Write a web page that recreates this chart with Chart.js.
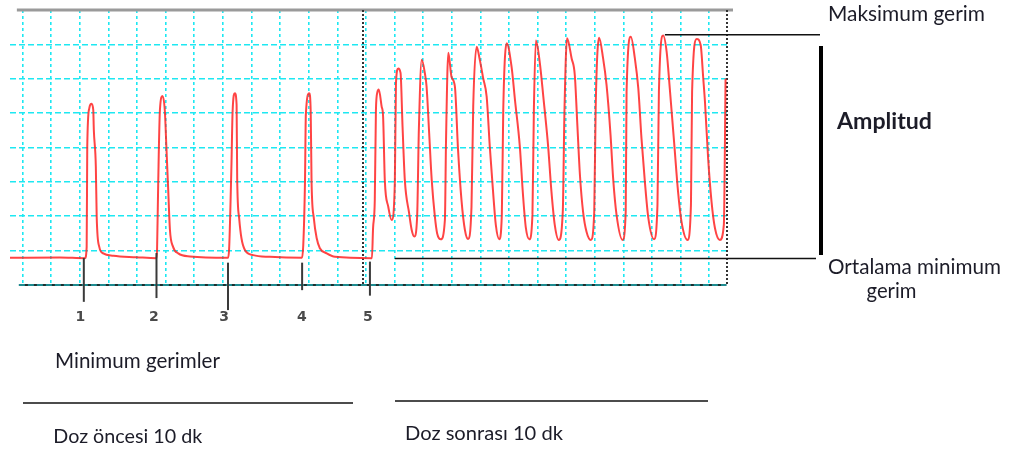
<!DOCTYPE html>
<html><head><meta charset="utf-8">
<script src="https://cdn.jsdelivr.net/npm/chart.js@4.4.1/dist/chart.umd.min.js"></script>
<style>html,body{margin:0;padding:0;background:#fff;}#wrap{width:1017px;height:450px;position:relative;}</style>
</head><body><div id="wrap"><canvas id="c"></canvas></div>
<script>
// ---- data (time in grid units, tension in grid units) ----
const preDoseX = [-0.44,1.30,2.18,2.24,2.26,2.33,2.41,2.47,2.49,2.56,2.59,2.68,2.82,3.17,3.98,4.68,
  4.70,4.74,4.80,4.89,4.97,5.03,5.09,5.15,5.26,5.44,5.85,7.18,
  7.22,7.30,7.34,7.42,7.48,7.50,7.57,7.65,7.77,8.06,8.64,9.76,
  9.81,9.87,9.90,10.02,10.07,10.10,10.18,10.28,10.39,10.63,10.92,12.21];
const preDoseY = [0.79,0.80,0.78,1.11,4.02,5.14,5.27,5.09,4.51,3.44,1.99,1.11,0.92,0.85,0.81,0.78,
  1.02,2.96,5.09,5.50,5.09,3.93,2.76,1.60,1.11,0.92,0.83,0.79,
  1.07,3.49,5.04,5.58,5.24,3.11,1.94,1.36,1.02,0.87,0.82,0.79,
  1.16,3.00,4.95,5.58,5.04,3.00,1.94,1.36,1.07,0.92,0.82,0.78];
const postDoseX = [12.25,12.31,12.35,12.40,12.45,12.55,12.60,12.66,12.78,12.90,
  13.01,13.05,13.13,13.21,13.28,13.36,13.51,13.60,13.69,
  13.79,13.85,13.95,14.06,14.12,14.21,14.30,14.41,14.49,14.62,
  14.76,14.80,14.88,14.99,15.11,15.22,15.34,15.46,15.57,
  15.69,15.75,15.87,15.98,16.10,16.22,16.33,16.44,16.54,16.66,
  16.75,16.80,16.92,17.09,17.21,17.38,17.49,17.59,17.71,
  17.82,17.87,17.94,18.08,18.20,18.37,18.48,18.60,18.74,
  18.88,18.94,19.03,19.19,19.30,19.39,19.48,19.59,19.71,19.86,
  19.98,20.03,20.15,20.29,20.41,20.55,20.64,20.76,20.97,
  21.08,21.11,21.26,21.40,21.52,21.63,21.75,21.87,22.07,
  22.19,22.24,22.39,22.51,22.62,22.77,22.91,23.03,23.24,
  23.36,23.40,23.56,23.70,23.79,23.85,23.96,24.08,24.20,24.37,
  24.51,24.57];
const postDoseY = [1.66,2.47,5.09,5.61,5.69,5.19,4.90,3.05,2.28,1.89,
  2.96,5.88,6.30,6.17,4.61,3.05,2.09,1.60,1.41,
  1.99,4.51,6.55,6.16,5.77,4.42,3.05,1.99,1.50,1.33,
  1.89,4.22,6.76,6.06,5.77,3.93,2.47,1.60,1.34,
  2.28,5.19,6.93,6.55,6.01,5.48,4.02,2.76,1.75,1.33,
  2.04,5.09,7.03,6.35,5.38,4.02,2.62,1.66,1.33,
  2.04,5.09,7.11,6.45,5.48,4.02,2.76,1.75,1.31,
  2.12,5.09,7.18,6.59,6.11,4.65,3.20,2.13,1.55,1.31,
  2.13,5.15,7.19,6.59,5.82,4.36,3.11,2.04,1.31,
  2.13,5.62,7.22,6.59,5.72,4.28,3.00,1.95,1.33,
  2.33,5.62,7.26,6.79,5.72,4.17,2.71,1.84,1.31,
  2.33,5.62,7.16,6.98,6.01,5.33,3.69,2.42,1.65,1.31,
  1.75,6.01];
const xGridTicks = [0,1,2,3,4,5,6,7,8,9,10,11,12,13,14,15,16,17,18,19,20,21,22,23,24];
const yGridTicks = [1,2,3,4,5,6,7];
const doseMarkersX = [11.9, 24.62];
const minMarkX = [2.14, 4.68, 7.18, 9.77, 12.14];
const minMarkTop = [0.79, 0.93, 0.65, 0.65, 0.68];
const minMarkBottom = [-0.49, -0.38, -0.73, -0.15, -0.31];
const minMarkLabels = ['1','2','3','4','5'];
const minLabelX = [2.02, 4.59, 7.04, 9.76, 12.07];
const maxLevel = 7.28, maxLineStart = 22.45;
const avgMinLevel = 0.77, avgMinLineStart = 13.01;

const CYAN = 'rgb(30,232,242)';
const trace = preDoseX.map((x,i)=>({x, y:preDoseY[i]}))
  .concat(postDoseX.map((x,i)=>({x, y:postDoseY[i]})));

function fitText(ctx, text, x, baseline, width, weight, family){
  ctx.font = weight + ' 20px ' + family;
  const w = ctx.measureText(text).width;
  const size = 20 * width / w;
  ctx.font = weight + ' ' + size.toFixed(2) + 'px ' + family;
  ctx.fillText(text, x, baseline);
}

const annot = {
  id: 'annot',
  beforeDatasetsDraw(chart){
    const ctx = chart.ctx, xs = chart.scales.x, ys = chart.scales.y;
    ctx.save();
    // top gray line
    ctx.strokeStyle = '#9a9a9a'; ctx.lineWidth = 3;
    ctx.beginPath(); ctx.moveTo(xs.getPixelForValue(-0.2), ys.getPixelForValue(8));
    ctx.lineTo(xs.getPixelForValue(24.83), ys.getPixelForValue(8)); ctx.stroke();
    // bottom line
    const yb = ys.getPixelForValue(0);
    ctx.strokeStyle = '#1e2e2e'; ctx.lineWidth = 2;
    ctx.beginPath(); ctx.moveTo(xs.getPixelForValue(-0.13), yb); ctx.lineTo(xs.getPixelForValue(24.6), yb); ctx.stroke();
    ctx.strokeStyle = CYAN; ctx.lineWidth = 1.2; ctx.setLineDash([6,3]);
    ctx.beginPath(); ctx.moveTo(xs.getPixelForValue(-0.13), yb); ctx.lineTo(xs.getPixelForValue(24.6), yb); ctx.stroke();
    // dose markers (black dotted)
    ctx.strokeStyle = '#333'; ctx.lineWidth = 2; ctx.setLineDash([2,2]);
    doseMarkersX.forEach(v=>{
      const px = Math.round(xs.getPixelForValue(v));
      ctx.beginPath(); ctx.moveTo(px, ys.getPixelForValue(8)); ctx.lineTo(px, yb); ctx.stroke();
    });
    ctx.restore();
  },
  afterDraw(chart){
    const ctx = chart.ctx, xs = chart.scales.x, ys = chart.scales.y;
    ctx.save();
    // minimum markers
    ctx.strokeStyle = '#3a3a3a'; ctx.lineWidth = 2;
    minMarkX.forEach((v,i)=>{
      const px = xs.getPixelForValue(v);
      ctx.beginPath(); ctx.moveTo(px, ys.getPixelForValue(minMarkTop[i])); ctx.lineTo(px, ys.getPixelForValue(minMarkBottom[i])); ctx.stroke();
    });
    ctx.fillStyle = '#4a4a4a'; ctx.font = 'bold 14px "DejaVu Sans"'; ctx.textAlign = 'center'; ctx.textBaseline = 'alphabetic';
    minMarkLabels.forEach((t,i)=>{ ctx.fillText(t, xs.getPixelForValue(minLabelX[i]), 320.5); });
    // max line
    ctx.strokeStyle = '#111'; ctx.lineWidth = 1.5;
    const yMax = ys.getPixelForValue(maxLevel);
    ctx.beginPath(); ctx.moveTo(xs.getPixelForValue(maxLineStart), yMax); ctx.lineTo(820, yMax); ctx.stroke();
    const yMin = ys.getPixelForValue(avgMinLevel);
    ctx.beginPath(); ctx.moveTo(xs.getPixelForValue(avgMinLineStart), yMin); ctx.lineTo(816, yMin); ctx.stroke();
    // amplitude bar
    ctx.lineWidth = 4; ctx.strokeStyle = '#000';
    ctx.beginPath(); ctx.moveTo(821, 46); ctx.lineTo(821, 255); ctx.stroke();
    // period lines
    ctx.lineWidth = 1.5; ctx.strokeStyle = '#111';
    ctx.beginPath(); ctx.moveTo(23, 403); ctx.lineTo(353, 403); ctx.stroke();
    ctx.beginPath(); ctx.moveTo(395, 401); ctx.lineTo(708, 401); ctx.stroke();
    // texts
    ctx.fillStyle = '#1c1c28'; ctx.textAlign = 'left';
    const fam = 'Lato';
    fitText(ctx, 'Maksimum gerim', 828, 20.5, 157, 'normal', fam);
    fitText(ctx, 'Amplitud', 837, 128.5, 95, 'bold', fam);
    fitText(ctx, 'Ortalama minimum', 828, 273.5, 173, 'normal', fam);
    fitText(ctx, 'gerim', 866.5, 297.5, 50, 'normal', fam);
    fitText(ctx, 'Minimum gerimler', 55, 368.3, 165, 'normal', fam);
    fitText(ctx, 'Doz öncesi 10 dk', 53.3, 443.3, 149, 'normal', fam);
    fitText(ctx, 'Doz sonrası 10 dk', 405, 440, 158, 'normal', fam);
    ctx.restore();
  }
};

new Chart(document.getElementById('c'), {
  type: 'line',
  data: { datasets: [{ data: trace, borderColor: 'rgba(255,35,35,0.85)', borderWidth: 2,
    pointRadius: 0, cubicInterpolationMode: 'monotone', fill: false }] },
  options: {
    responsive: true, maintainAspectRatio: false, animation: false,
    layout: { padding: { left: 10, top: 10, right: 288, bottom: 165 } },
    plugins: { legend: { display: false }, tooltip: { enabled: false } },
    scales: {
      x: { type: 'linear', min: -0.44, max: 24.69,
        afterBuildTicks: s => { s.ticks = xGridTicks.map(v => ({ value: v })); },
        afterFit: s => { s.height = 0; },
        ticks: { display: false },
        grid: { color: CYAN, lineWidth: 1.6, drawTicks: false },
        border: { display: false, dash: [3, 3] } },
      y: { type: 'linear', min: 0, max: 8,
        afterBuildTicks: s => { s.ticks = yGridTicks.map(v => ({ value: v })); },
        afterFit: s => { s.width = 0; },
        ticks: { display: false },
        grid: { color: CYAN, lineWidth: 1.6, drawTicks: false },
        border: { display: false, dash: [6, 3] } }
    }
  },
  plugins: [annot]
});
</script></body></html>
